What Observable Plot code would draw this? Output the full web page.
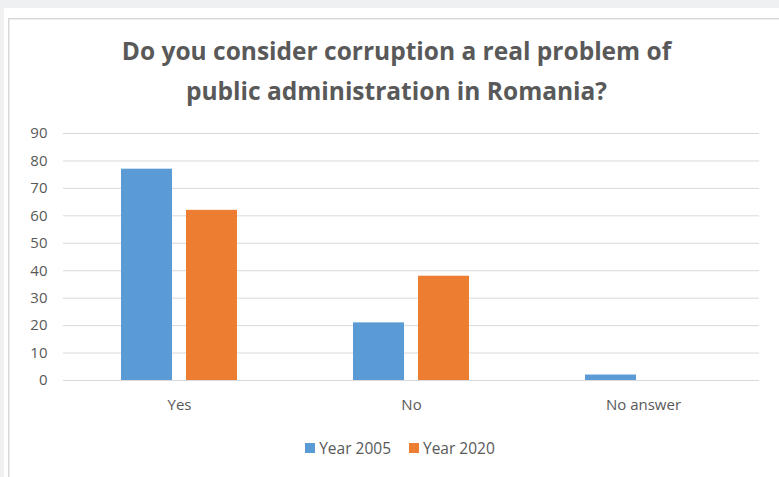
<!DOCTYPE html>
<html>
<head>
<meta charset="utf-8">
<script src="https://cdn.jsdelivr.net/npm/d3@7"></script>
<script src="https://cdn.jsdelivr.net/npm/@observablehq/plot@0.6"></script>
<style>
  html, body { margin: 0; padding: 0; }
  body { width: 779px; height: 477px; background: #eff0f2; position: relative; overflow: hidden; font-family: "Open Sans", "Liberation Sans", sans-serif; }
  #page { position: absolute; left: 4px; top: 8px; width: 775px; height: 469px; background: #fff; }
  #frame { position: absolute; left: 8px; top: 18px; width: 790px; height: 470px; border: 1px solid #d9d9d9; box-shadow: inset 1px 1px 0 #ececec; background: #fff; }
  #title { position: absolute; left: 0; top: 31px; width: 793px; text-align: center; font-weight: bold; font-size: 24.5px; line-height: 40px; color: #595959; }
  #chart { position: absolute; left: 0; top: 110px; }
  #legend { position: absolute; left: 0; top: 436px; width: 800px; text-align: center; font-size: 15.5px; color: #595959; }
  .item { display: inline-flex; align-items: center; margin: 0 9px; }
  .sw { width: 10px; height: 10px; display: inline-block; margin-right: 4px; }
</style>
</head>
<body>
<div id="page"></div>
<div id="frame"></div>
<div id="title">Do you consider corruption a real problem of<br>public administration in Romania?</div>
<div id="chart"></div>
<div id="legend"></div>
<script>
const categories = ["Yes", "No", "No answer"];
const seriesNames = ["Year 2005", "Year 2020"];
const year2005 = [77, 21, 2];
const year2020 = [62, 38, 0];
const yTicks = [0, 10, 20, 30, 40, 50, 60, 70, 80, 90];
const colors = ["#5b9bd5", "#ed7d31"];

const data = [];
categories.forEach((c, i) => {
  data.push({category: c, series: seriesNames[0], value: year2005[i]});
  data.push({category: c, series: seriesNames[1], value: year2020[i]});
});

const chart = Plot.plot({
  width: 779,
  height: 310,
  marginLeft: 63,
  marginRight: 20,
  marginTop: 23,
  marginBottom: 40,
  style: {fontFamily: "'Open Sans', 'Liberation Sans', sans-serif", fontSize: "15px", color: "#595959", background: "transparent", overflow: "visible"},
  fx: {domain: categories, padding: 0, label: null, axis: "bottom", tickSize: 0, tickPadding: 19},
  x: {domain: seriesNames, paddingInner: 0.212, paddingOuter: 0.864, axis: null},
  y: {domain: [0, 90], ticks: yTicks, label: null, axis: null},
  color: {domain: seriesNames, range: colors},
  marks: [
    Plot.ruleY(yTicks, {stroke: "#d9d9d9", strokeWidth: 1}),
    Plot.axisY({ticks: yTicks, tickSize: 0, tickPadding: 16, label: null, fontSize: 15}),
    Plot.barY(data, {fx: "category", x: "series", y: "value", fill: "series"})
  ]
});
document.getElementById("chart").appendChild(chart);

const legend = document.getElementById("legend");
seriesNames.forEach((s, i) => {
  const item = document.createElement("span");
  item.className = "item";
  item.innerHTML = `<span class="sw" style="background:${colors[i]}"></span>${s}`;
  legend.appendChild(item);
});
</script>
</body>
</html>
